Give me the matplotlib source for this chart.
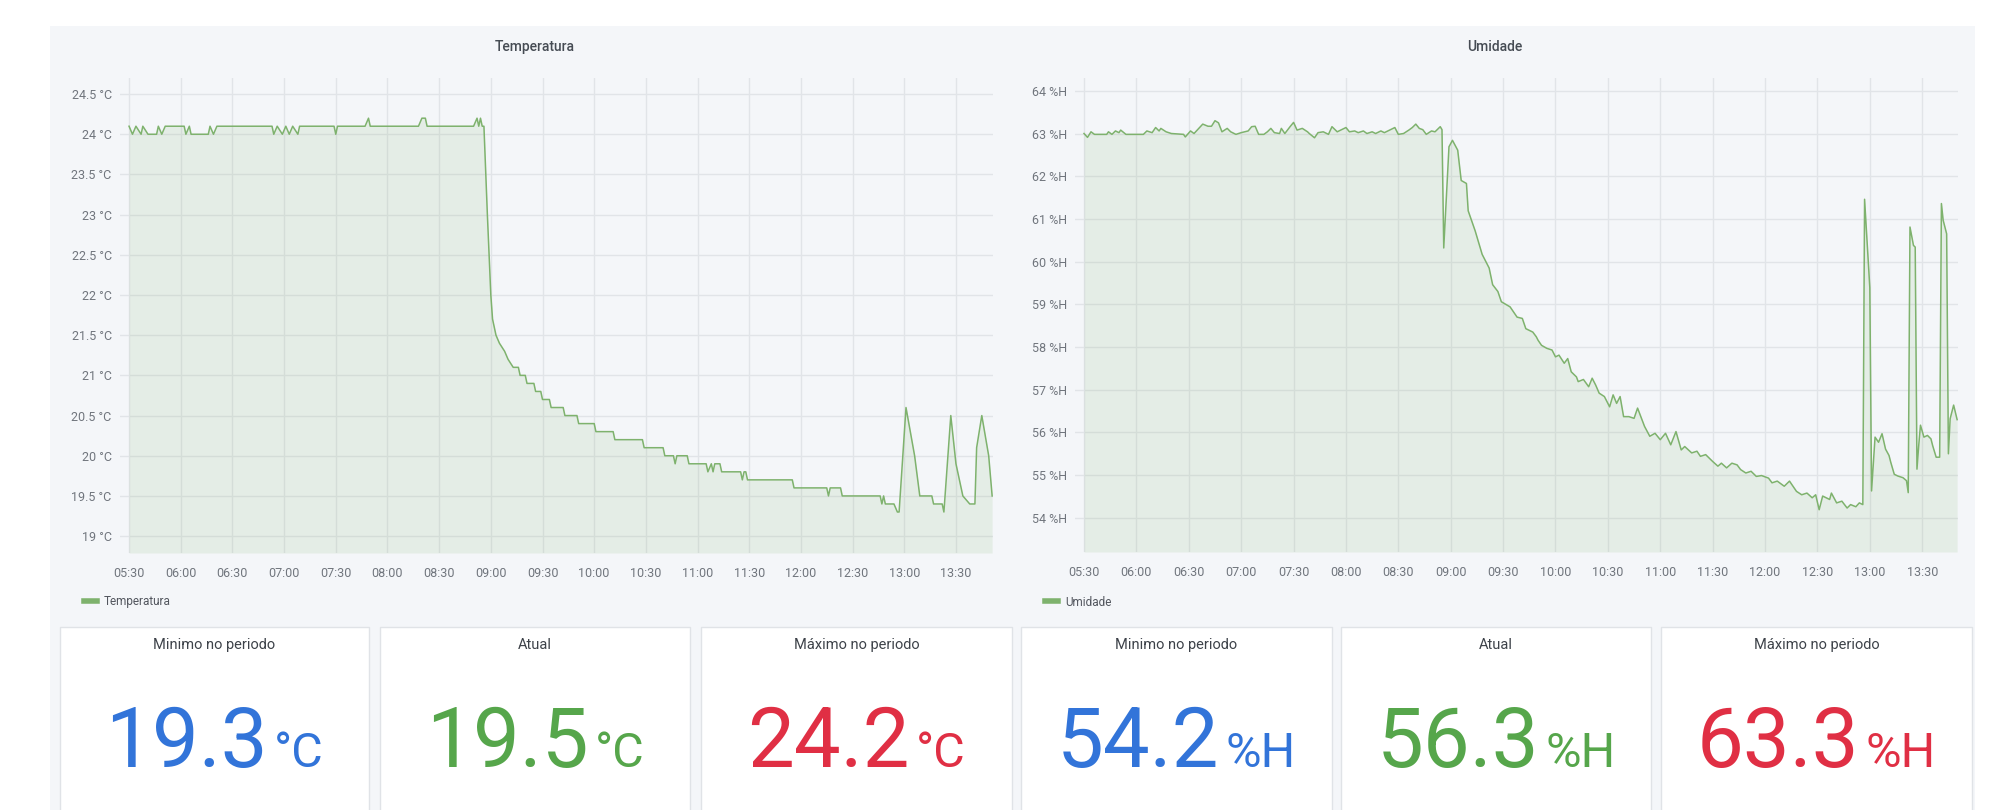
import matplotlib
matplotlib.use("Agg")
import matplotlib.pyplot as plt
import matplotlib.dates as mdates
from matplotlib.patches import Rectangle
from matplotlib.lines import Line2D
import pandas as pd

plt.rcParams['font.family'] = ['Roboto', 'DejaVu Sans']

# ---- data ----
temp_times = [
    "05:30", "05:32", "05:34", "05:37", "05:38", "05:41", "05:46", "05:47", "05:49", "05:51",
    "06:02", "06:03", "06:05", "06:06", "06:16", "06:17", "06:19", "06:21", "06:53", "06:54",
    "06:56", "06:59", "07:01", "07:03", "07:05", "07:08", "07:09", "07:29", "07:30", "07:31",
    "07:47", "07:49", "07:50", "08:18", "08:20", "08:22", "08:23", "08:50", "08:52", "08:53",
    "08:54", "08:55", "08:56", "08:58", "09:00", "09:01", "09:03", "09:05", "09:08", "09:10",
    "09:13", "09:16", "09:17", "09:20", "09:21", "09:25", "09:26", "09:29", "09:30", "09:34",
    "09:35", "09:42", "09:43", "09:50", "09:51", "10:00", "10:01", "10:11", "10:12", "10:28",
    "10:29", "10:40", "10:41", "10:46", "10:47", "10:48", "10:54", "10:55", "11:05", "11:06",
    "11:08", "11:09", "11:10", "11:13", "11:14", "11:25", "11:26", "11:27", "11:28", "11:29",
    "11:55", "11:56", "12:15", "12:16", "12:17", "12:23", "12:24", "12:46", "12:47", "12:48",
    "12:49", "12:54", "12:56", "12:57", "13:01", "13:06", "13:09", "13:16", "13:17", "13:22",
    "13:23", "13:27", "13:30", "13:34", "13:38", "13:41", "13:42", "13:45", "13:49", "13:51",
]
temp_values = [
    24.1, 24.0, 24.1, 24.0, 24.1, 24.0, 24.0, 24.1, 24.0, 24.1,
    24.1, 24.0, 24.1, 24.0, 24.0, 24.1, 24.0, 24.1, 24.1, 24.0,
    24.1, 24.0, 24.1, 24.0, 24.1, 24.0, 24.1, 24.1, 24.0, 24.1,
    24.1, 24.2, 24.1, 24.1, 24.2, 24.2, 24.1, 24.1, 24.2, 24.1,
    24.2, 24.1, 24.1, 23.0, 22.0, 21.7, 21.5, 21.4, 21.3, 21.2,
    21.1, 21.1, 21.0, 21.0, 20.9, 20.9, 20.8, 20.8, 20.7, 20.7,
    20.6, 20.6, 20.5, 20.5, 20.4, 20.4, 20.3, 20.3, 20.2, 20.2,
    20.1, 20.1, 20.0, 20.0, 19.9, 20.0, 20.0, 19.9, 19.9, 19.8,
    19.9, 19.8, 19.9, 19.9, 19.8, 19.8, 19.7, 19.8, 19.8, 19.7,
    19.7, 19.6, 19.6, 19.5, 19.6, 19.6, 19.5, 19.5, 19.4, 19.5,
    19.4, 19.4, 19.3, 19.3, 20.6, 20.0, 19.5, 19.5, 19.4, 19.4,
    19.3, 20.5, 19.9, 19.5, 19.4, 19.4, 20.1, 20.5, 20.0, 19.5,
]

hum_times = [
    "05:30", "05:32", "05:34", "05:36", "05:43", "05:44", "05:46", "05:48", "05:50", "05:51",
    "05:54", "06:04", "06:06", "06:09", "06:11", "06:13", "06:14", "06:17", "06:20", "06:27",
    "06:28", "06:31", "06:33", "06:36", "06:38", "06:41", "06:43", "06:45", "06:47", "06:49",
    "06:52", "06:54", "06:57", "07:00", "07:04", "07:06", "07:08", "07:10", "07:13", "07:15",
    "07:17", "07:19", "07:22", "07:23", "07:25", "07:28", "07:30", "07:32", "07:35", "07:38",
    "07:39", "07:42", "07:44", "07:47", "07:50", "07:52", "07:55", "07:57", "08:00", "08:02",
    "08:05", "08:07", "08:10", "08:12", "08:15", "08:17", "08:20", "08:22", "08:25", "08:28",
    "08:30", "08:33", "08:36", "08:38", "08:40", "08:42", "08:44", "08:46", "08:49", "08:51",
    "08:54", "08:55", "08:56", "08:59", "09:01", "09:04", "09:06", "09:09", "09:10", "09:14",
    "09:18", "09:22", "09:24", "09:27", "09:29", "09:34", "09:38", "09:41", "09:43", "09:47",
    "09:49", "09:50", "09:52", "09:55", "09:58", "10:00", "10:02", "10:05", "10:07", "10:09",
    "10:12", "10:13", "10:16", "10:19", "10:21", "10:23", "10:25", "10:28", "10:31", "10:33",
    "10:35", "10:37", "10:39", "10:42", "10:45", "10:47", "10:51", "10:54", "10:57", "11:00",
    "11:03", "11:06", "11:09", "11:12", "11:14", "11:18", "11:21", "11:23", "11:26", "11:30",
    "11:33", "11:35", "11:38", "11:41", "11:44", "11:46", "11:49", "11:52", "11:55", "11:58",
    "12:02", "12:04", "12:07", "12:11", "12:14", "12:18", "12:21", "12:24", "12:27", "12:29",
    "12:31", "12:33", "12:37", "12:38", "12:41", "12:44", "12:47", "12:49", "12:52", "12:54",
    "12:56", "12:57", "13:00", "13:01", "13:03", "13:05", "13:07", "13:09", "13:11", "13:12",
    "13:14", "13:16", "13:19", "13:21", "13:22", "13:23", "13:25", "13:26", "13:27", "13:28",
    "13:29", "13:31", "13:33", "13:35", "13:36", "13:38", "13:40", "13:41", "13:42", "13:44",
    "13:45", "13:46", "13:48", "13:50",
]
hum_values = [
    63.00, 62.91, 63.04, 62.98, 62.98, 63.04, 62.98, 63.06, 63.02, 63.08,
    62.98, 62.98, 63.06, 63.02, 63.14, 63.06, 63.12, 63.04, 63.00, 62.98,
    62.92, 63.06, 63.00, 63.13, 63.22, 63.17, 63.17, 63.30, 63.25, 63.04,
    63.12, 63.04, 62.98, 63.02, 63.06, 63.16, 63.17, 62.98, 62.98, 63.04,
    63.12, 63.02, 63.00, 63.12, 63.00, 63.16, 63.26, 63.08, 63.12, 63.04,
    63.00, 62.90, 63.02, 63.04, 62.98, 63.16, 63.04, 63.08, 63.14, 63.04,
    63.06, 63.02, 63.06, 63.00, 63.04, 63.00, 63.06, 63.02, 63.08, 63.14,
    62.98, 63.00, 63.08, 63.14, 63.22, 63.12, 63.09, 62.98, 63.06, 63.04,
    63.16, 63.09, 60.32, 62.69, 62.84, 62.61, 61.90, 61.83, 61.19, 60.72,
    60.17, 59.85, 59.46, 59.30, 59.06, 58.94, 58.70, 58.67, 58.43, 58.35,
    58.24, 58.16, 58.04, 57.97, 57.93, 57.77, 57.81, 57.62, 57.73, 57.42,
    57.30, 57.19, 57.24, 57.07, 57.27, 57.11, 56.92, 56.84, 56.60, 56.88,
    56.68, 56.84, 56.37, 56.37, 56.33, 56.57, 56.14, 55.91, 55.98, 55.83,
    55.98, 55.71, 56.02, 55.59, 55.67, 55.52, 55.56, 55.44, 55.48, 55.32,
    55.21, 55.28, 55.17, 55.28, 55.24, 55.13, 55.05, 55.09, 54.97, 54.99,
    54.93, 54.82, 54.86, 54.74, 54.86, 54.62, 54.54, 54.58, 54.47, 54.54,
    54.19, 54.51, 54.43, 54.58, 54.35, 54.39, 54.23, 54.31, 54.26, 54.35,
    54.31, 61.46, 59.39, 54.63, 55.89, 55.77, 55.97, 55.61, 55.46, 55.30,
    55.02, 54.98, 54.94, 54.87, 54.59, 60.81, 60.38, 60.34, 55.14, 55.69,
    56.17, 55.89, 55.93, 55.85, 55.69, 55.42, 55.42, 61.36, 60.97, 60.65,
    55.50, 56.32, 56.64, 56.30,
]

temp_ticks = [19, 19.5, 20, 20.5, 21, 21.5, 22, 22.5, 23, 23.5, 24, 24.5]
hum_ticks = [54, 55, 56, 57, 58, 59, 60, 61, 62, 63, 64]

stat_titles = ["Minimo no periodo", "Atual", "Máximo no periodo"]
temp_stats = [19.3, 19.5, 24.2]
hum_stats = [54.2, 56.3, 63.3]

# ---- styling ----
LINE = '#7eb26d'
GRID = '#e1e4e8'
BG = '#f4f6f9'
TICK = '#70757d'
TITLE = '#464c54'
STAT_COLORS = ['#3274d9', '#56a64b', '#e02f44']

W, H = 1996, 810
fig = plt.figure(figsize=(W / 100, H / 100), dpi=100)
fig.patch.set_facecolor('white')


def fx(x):
    return x / W


def fy(y):
    return 1 - y / H


def box(l, t, r, b):
    return [l / W, 1 - b / H, (r - l) / W, (b - t) / H]


fig.patches.append(Rectangle((fx(50), fy(810)), (1975 - 50) / W, (810 - 26) / H,
                             transform=fig.transFigure, facecolor=BG, edgecolor='none', zorder=-5))


def to_dt(times):
    return pd.to_datetime(["2021-01-01 " + t for t in times])


def graph(rect, times, values, ylim, ticks, unit, xlim, name, title_x, legend_x):
    ax = fig.add_axes(box(*rect))
    ax.set_facecolor('none')
    ax.set_axisbelow(True)
    t = to_dt(times)
    ax.plot(t, values, color=LINE, lw=1.1, label=name)
    ax.fill_between(t, values, ylim[0], color=LINE, alpha=0.13, lw=0)
    ax.set_ylim(ylim)
    ax.set_xlim(pd.Timestamp("2021-01-01 " + xlim[0]), pd.Timestamp("2021-01-01 " + xlim[1]))
    ax.xaxis.set_major_locator(mdates.MinuteLocator(byminute=[0, 30]))
    ax.xaxis.set_major_formatter(mdates.DateFormatter('%H:%M'))
    ax.set_yticks(ticks)
    ax.set_yticklabels([f"{v:g} {unit}" for v in ticks])
    ax.grid(True, color=GRID, lw=1)
    for s in ax.spines.values():
        s.set_visible(False)
    ax.tick_params(axis='both', length=0, colors=TICK, labelsize=9)
    ax.tick_params(axis='x', pad=10)
    ax.tick_params(axis='y', pad=6)
    fig.text(fx(title_x), fy(47), name, ha='center', va='center', fontsize=10,
             fontweight='medium', color=TITLE)
    ax.legend(handles=[Line2D([], [], color=LINE, lw=4)], labels=[name],
              loc='center left', bbox_to_anchor=(fx(legend_x), fy(602)),
              bbox_transform=fig.transFigure, frameon=False, handlelength=1.1,
              handletextpad=0.6, borderaxespad=0, borderpad=0, fontsize=8.5,
              labelcolor='#52565e')
    return ax


graph((120, 78, 993, 553), temp_times, temp_values, (18.79, 24.7), temp_ticks, '°C',
      ("05:24:45", "13:51:30"), 'Temperatura', 535, 84)
graph((1075, 78, 1958, 552), hum_times, hum_values, (53.2, 64.3), hum_ticks, '%H',
      ("05:24:50", "13:50:30"), 'Umidade', 1495, 1045)

# ---- stat cards ----
cards_x = [(60, 369), (380, 690), (701, 1012), (1021, 1332), (1341, 1651), (1661, 1972)]
renderer = fig.canvas.get_renderer()
for i, (l, r) in enumerate(cards_x):
    fig.patches.append(Rectangle((fx(l), fy(830)), (r - l) / W, (830 - 627) / H,
                                 transform=fig.transFigure, facecolor='white',
                                 edgecolor='#e0e3e7', lw=1, zorder=1))
    cx = (l + r) / 2
    k = i % 3
    val = temp_stats[k] if i < 3 else hum_stats[k]
    unit = '°C' if i < 3 else '%H'
    fig.text(fx(cx), fy(645), stat_titles[k], ha='center', va='center', fontsize=10.5,
             color='#3d4249', zorder=3)
    num = fig.text(0, fy(767), f"{val:.1f}", ha='left', va='baseline', fontsize=60,
                   color=STAT_COLORS[k], zorder=3)
    un = fig.text(0, fy(767), unit, ha='left', va='baseline', fontsize=35,
                  color=STAT_COLORS[k], zorder=3)
    wn = num.get_window_extent(renderer).width
    wu = un.get_window_extent(renderer).width
    gap = 6
    start = cx - (wn + gap + wu) / 2
    num.set_x(fx(start))
    un.set_x(fx(start + wn + gap))

fig.savefig('out.png', dpi=100)
